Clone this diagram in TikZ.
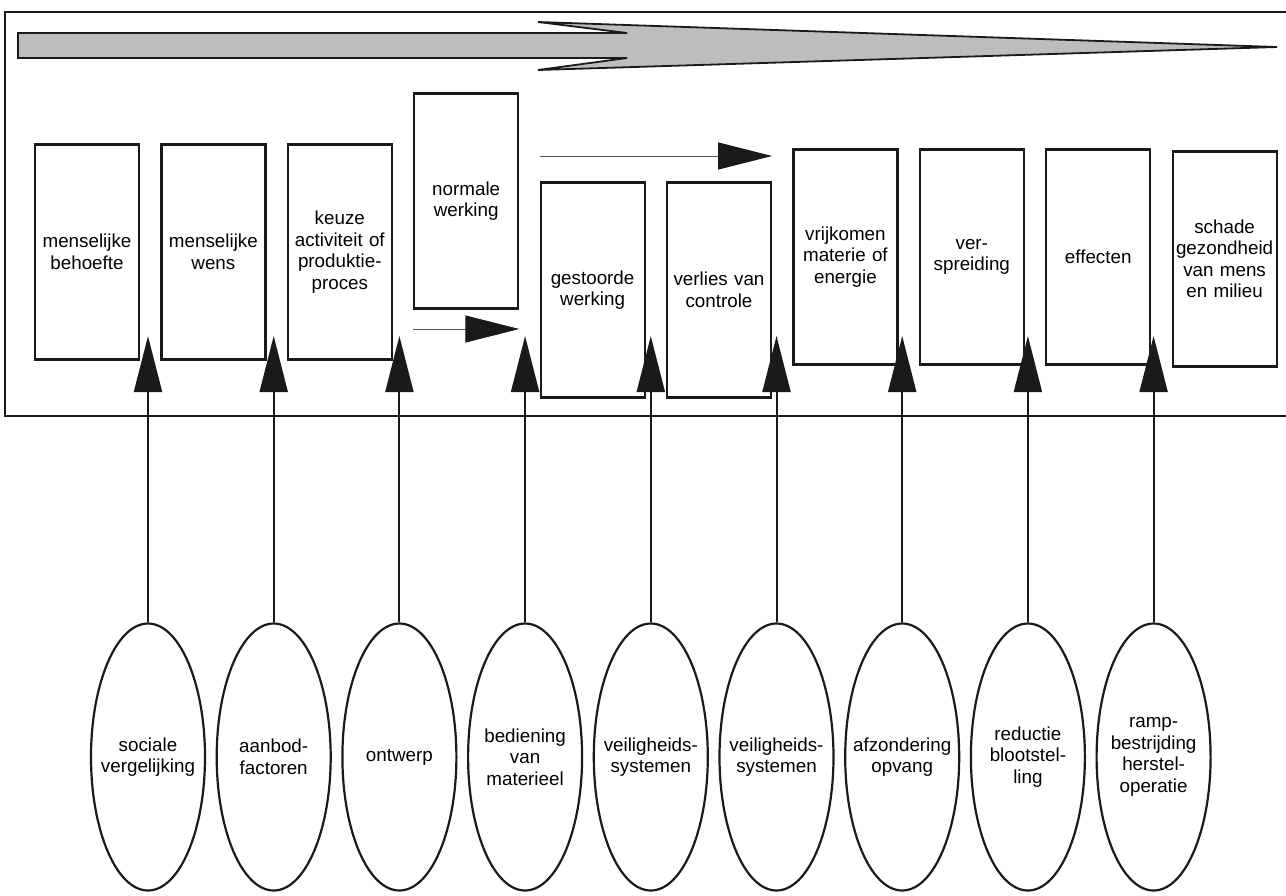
\documentclass[tikz,border=0pt]{standalone}
\usepackage{fontspec}
\setmainfont{Liberation Sans}
\usepackage{tikz}
\usetikzlibrary{shapes.geometric, arrows.meta, positioning, calc}
\definecolor{inkblack}{HTML}{1A1A1A}
\definecolor{flowgrey}{HTML}{BDBDBD}
\definecolor{thinline}{HTML}{555555}
\tikzstyle{chainbox} = [rectangle, minimum width=104pt, minimum height=215pt, text width=100pt,
  align=center, inner sep=0pt, draw=inkblack, line width=2.2pt, font=\fontsize{18.8}{21.5}\selectfont]
\tikzstyle{measure} = [ellipse, minimum width=114pt, minimum height=267pt, inner xsep=-22pt,
  align=center, draw=inkblack, line width=2.2pt, font=\fontsize{18.8}{21.5}\selectfont]
\tikzstyle{uparrow} = [line width=2pt, draw=inkblack, -{Triangle[length=56pt, width=28pt]}]
\tikzstyle{steparrow} = [line width=1pt, draw=thinline, -{Triangle[length=54pt, width=27pt, color=inkblack]}]
\tikzstyle{frameline} = [line width=1.8pt, draw=inkblack]
\begin{document}
\begin{tikzpicture}[x=1pt, y=-1pt]
  \useasboundingbox (0,0) rectangle (1286,895);

  % frame and big process arrow
  \draw[frameline] (5,12) rectangle (1300,416);
  \draw[frameline, fill=flowgrey] (18,33) -- (627,33) -- (538,22) -- (1277,47)
    -- (538,70) -- (627,58) -- (18,58) -- cycle;

  % chain of events
  \node (beh)  [chainbox] at (87,252) {menselijke\\behoefte};
  \node (wens) [chainbox, right=20.2pt of beh] {menselijke\\wens};
  \node (keuz) [chainbox, right=20.2pt of wens] {keuze\\activiteit of\\produktie-\\proces};
  \node (norm) [chainbox, right=20.2pt of keuz, yshift=51pt] {normale\\werking};
  \node (stoor)[chainbox, right=20.2pt of norm, yshift=-89pt] {gestoorde\\werking};
  \node (verl) [chainbox, right=20.2pt of stoor] {verlies van\\controle};
  \node (vrij) [chainbox, right=20.2pt of verl, yshift=33pt] {vrijkomen\\materie of\\energie};
  \node (spr)  [chainbox, right=20.2pt of vrij] {ver-\\spreiding};
  \node (eff)  [chainbox, right=20.2pt of spr] {effecten};
  \node (sch)  [chainbox, right=20.2pt of eff, yshift=-2pt] {schade\\gezondheid\\van mens\\en milieu};

  % measures
  \node (soc)  [measure] at (148,757) {sociale\\vergelijking};
  \node (aanb) [measure, right=9.5pt of soc] {aanbod-\\factoren};
  \node (ontw) [measure, right=9.5pt of aanb] {ontwerp};
  \node (bed)  [measure, right=9.5pt of ontw] {bediening\\van\\materieel};
  \node (veil1)[measure, right=9.5pt of bed] {veiligheids-\\systemen};
  \node (veil2)[measure, right=9.5pt of veil1] {veiligheids-\\systemen};
  \node (afz)  [measure, right=9.5pt of veil2] {afzondering\\opvang};
  \node (red)  [measure, right=9.5pt of afz] {reductie\\blootstel-\\ling};
  \node (ramp) [measure, right=9.5pt of red] {ramp-\\bestrijding\\herstel-\\operatie};

  \coordinate (tipline) at (0,336);
  \coordinate (lowrun) at (0,329);
  \coordinate (highrun) at (0,156);

  \draw[steparrow] (norm.west |- lowrun) -- (norm.east |- lowrun);
  \draw[steparrow] (stoor.west |- highrun) -- (verl.east |- highrun);

  \draw[uparrow] (soc.north) -- (soc.north |- tipline);
  \draw[uparrow] (aanb.north) -- (aanb.north |- tipline);
  \draw[uparrow] (ontw.north) -- (ontw.north |- tipline);
  \draw[uparrow] (bed.north) -- (bed.north |- tipline);
  \draw[uparrow] (veil1.north) -- (veil1.north |- tipline);
  \draw[uparrow] (veil2.north) -- (veil2.north |- tipline);
  \draw[uparrow] (afz.north) -- (afz.north |- tipline);
  \draw[uparrow] (red.north) -- (red.north |- tipline);
  \draw[uparrow] (ramp.north) -- (ramp.north |- tipline);
\end{tikzpicture}
\end{document}
